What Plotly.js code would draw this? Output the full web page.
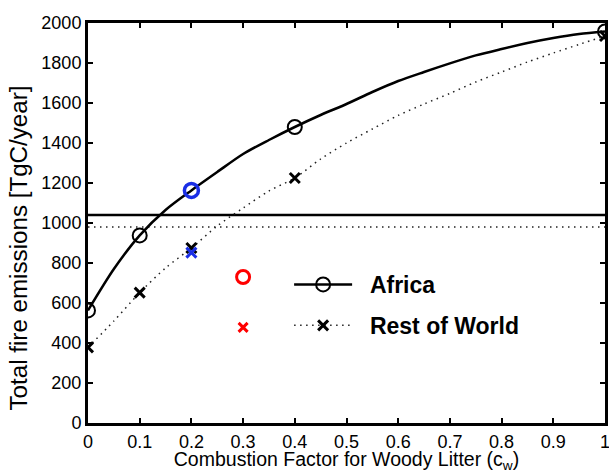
<!DOCTYPE html>
<html>
<head>
<meta charset="utf-8">
<script src="https://cdn.plot.ly/plotly-3.0.1.min.js"></script>
<style>html,body{margin:0;padding:0;background:#fff;}#chart{width:609px;height:473px;}</style>
</head>
<body>
<div id="chart"></div>
<script>
// Combustion factor grid (x) for the model curves
var curveX = [0, 0.05, 0.1, 0.15, 0.2, 0.25, 0.3, 0.35, 0.4, 0.45, 0.5, 0.55, 0.6, 0.65, 0.7, 0.75, 0.8, 0.85, 0.9, 0.95, 1];
// Africa curve values [TgC/year]
var africaY = [563, 770, 938, 1065, 1163, 1255, 1345, 1415, 1480, 1540, 1595, 1655, 1710, 1755, 1798, 1838, 1870, 1900, 1925, 1945, 1958];
// Rest of World curve values [TgC/year]
var restY = [378, 510, 652, 775, 875, 985, 1075, 1160, 1225, 1320, 1400, 1470, 1538, 1595, 1648, 1705, 1755, 1805, 1850, 1893, 1935];
// x positions where model runs are marked
var markedX = [0, 0.1, 0.2, 0.4, 1];
// Observed / reference totals (horizontal lines)
var refX = [0, 1];
var africaRef = 1040;
var restRef = 980;
// Highlighted points
var blueX = [0.2], blueAfrica = [1163], blueRest = [852];
var redX = [0.3], redAfrica = [730], redRest = [478];

var seriesNames = ['Africa', 'Rest of World'];
var xTickVals = [0, 0.1, 0.2, 0.3, 0.4, 0.5, 0.6, 0.7, 0.8, 0.9, 1];
var xTickText = ['0', '0.1', '0.2', '0.3', '0.4', '0.5', '0.6', '0.7', '0.8', '0.9', '1'];
var yTickVals = [0, 200, 400, 600, 800, 1000, 1200, 1400, 1600, 1800, 2000];

function markColors(color) {
  return curveX.map(function (x) {
    return markedX.some(function (m) { return Math.abs(m - x) < 1e-9; }) ? color : 'rgba(0,0,0,0)';
  });
}

var FONT = 'Liberation Sans, Arial, Helvetica, sans-serif';
var GAP = '\u00a0\u00a0';

var traces = [
  {x: refX, y: [africaRef, africaRef], mode: 'lines', showlegend: false, hoverinfo: 'skip',
   line: {color: '#000', width: 2.5}},
  {x: refX, y: [restRef, restRef], mode: 'lines', showlegend: false, hoverinfo: 'skip',
   line: {color: '#222', width: 1.5, dash: '1.5px,4.5px'}},
  {x: curveX, y: africaY, mode: 'lines+markers', name: GAP + '<b>' + seriesNames[0] + '</b>', legendgroup: 'a',
   line: {color: '#000', width: 2.5, shape: 'spline', smoothing: 0.8},
   marker: {symbol: 'circle-open', size: 14, color: markColors('#000'), line: {width: 2}}},
  {x: curveX, y: restY, mode: 'lines+markers', name: GAP + '<b>' + seriesNames[1] + '</b>', legendgroup: 'b',
   line: {color: '#222', width: 1.5, dash: '1.5px,4.5px', shape: 'spline', smoothing: 0.8},
   marker: {symbol: 'x-thin-open', size: 10, color: markColors('#000'), line: {width: 3}}},
  {x: blueX, y: blueAfrica, mode: 'markers', showlegend: false,
   marker: {symbol: 'circle-open', size: 14, color: '#1a2ee6', line: {width: 3.5}}},
  {x: blueX, y: blueRest, mode: 'markers', showlegend: false,
   marker: {symbol: 'x-thin-open', size: 10, color: '#1a2ee6', line: {width: 3}}},
  {x: redX, y: redAfrica, mode: 'markers', showlegend: false,
   marker: {symbol: 'circle-open', size: 13, color: '#ff0000', line: {width: 3}}},
  {x: redX, y: redRest, mode: 'markers', showlegend: false,
   marker: {symbol: 'x-thin-open', size: 9, color: '#ff0000', line: {width: 3}}}
];

var axisCommon = {
  showgrid: false, zeroline: false, showline: true, linecolor: '#000', linewidth: 3,
  mirror: 'ticks', ticks: 'inside', ticklen: 5, tickwidth: 2, tickcolor: '#000',
  tickfont: {family: FONT, size: 18, color: '#000'}
};

var layout = {
  width: 609, height: 473,
  margin: {l: 88, r: 4, t: 23, b: 50},
  paper_bgcolor: '#fff', plot_bgcolor: '#fff',
  font: {family: FONT, color: '#000'},
  xaxis: Object.assign({}, axisCommon, {
    range: [0, 1], tickmode: 'array', tickvals: xTickVals, ticktext: xTickText,
    ticklabeloverflow: 'allow',
    title: {text: 'Combustion Factor for Woody Litter (c<sub>w</sub>)', font: {family: FONT, size: 19.5}, standoff: 0}
  }),
  yaxis: Object.assign({}, axisCommon, {
    range: [0, 2000], tickmode: 'array', tickvals: yTickVals,
    title: {text: 'Total fire emissions [TgC/year]', font: {family: FONT, size: 23}, standoff: 8}
  }),
  showlegend: true,
  legend: {
    x: 0.389, y: 0.40, xanchor: 'left', yanchor: 'top',
    bgcolor: 'rgba(0,0,0,0)', borderwidth: 0,
    font: {family: FONT, size: 23, color: '#000'},
    itemwidth: 58, traceorder: 'grouped', tracegroupgap: 8
  }
};

Plotly.newPlot('chart', traces, layout, {staticPlot: true, displayModeBar: false}).then(function (gd) {
  var t = gd.querySelector('.ytitle');
  if (t) {
    t.setAttribute('textLength', '325');
    t.setAttribute('lengthAdjust', 'spacingAndGlyphs');
    var tr = t.getAttribute('transform') || '';
    t.setAttribute('transform', 'translate(0,25) ' + tr);
  }
});
</script>
</body>
</html>
